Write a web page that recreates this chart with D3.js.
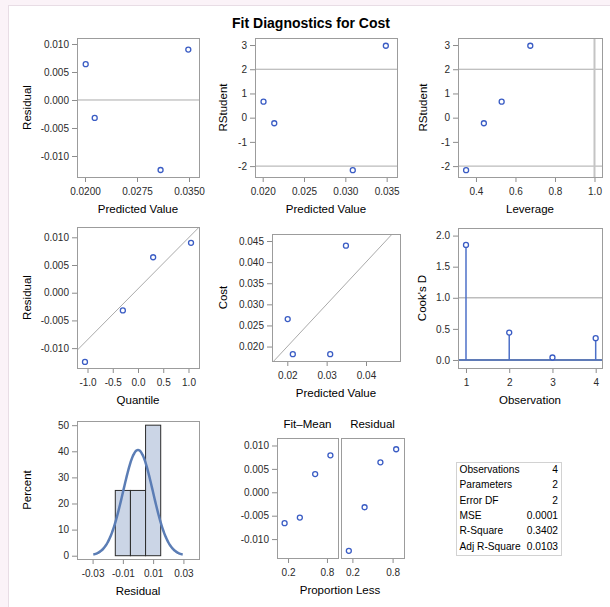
<!DOCTYPE html>
<html>
<head>
<meta charset="utf-8">
<script src="https://cdn.jsdelivr.net/npm/d3@7"></script>
<style>
body { margin: 0; background: #fff; }
svg text { font-family: "Liberation Sans", Arial, sans-serif; }
</style>
</head>
<body>
<div id="chart-area"></div>
<script>
// *********************
// Data
// *********************

// per observation
const observation = [1, 2, 3, 4];
const predicted = [0.0349, 0.0309, 0.0214, 0.0201];
const cost = [0.0439, 0.0182, 0.0182, 0.0265];
const residual = [0.0090, -0.0125, -0.0032, 0.0064];
const rstudent = [2.97, -2.17, -0.23, 0.66];
const leverage = [0.675, 0.35, 0.44, 0.53];
const cooksD = [1.85, 0.44, 0.04, 0.35];
const normalQuantile = [1.05, -1.05, -0.30, 0.30];

// histogram of residuals
const binStart = [-0.015, -0.005, 0.005];
const binPercent = [25, 25, 50];
const binWidth = 0.01;
const residMean = 0;
const residSD = 0.00985;

// residual-fit spread
const proportionLess = [0.147, 0.382, 0.618, 0.853];
const fitMinusMean = [-0.0066, -0.0054, 0.0039, 0.0079];
const residSorted = [-0.0125, -0.0032, 0.0064, 0.0092];

// reference lines
const rstudentRef = [-2, 2];
const leverageRef = 1.0;
const cooksRef = 1.0;
const qqLine = {intercept: 0.0007, slope: 0.0092};

// fit statistics
const statLabels = ["Observations", "Parameters", "Error DF", "MSE", "R-Square", "Adj R-Square"];
const statValues = ["4", "2", "2", "0.0001", "0.3402", "0.0103"];

// tick values
const residTicks = [-0.010, -0.005, 0.000, 0.005, 0.010];
const predTicks1 = [0.0200, 0.0275, 0.0350];
const predTicks2 = [0.020, 0.025, 0.030, 0.035];
const predTicks3 = [0.02, 0.03, 0.04];
const rstudTicks = [-2, -1, 0, 1, 2, 3];
const levTicks = [0.4, 0.6, 0.8, 1.0];
const quantTicks = [-1.0, -0.5, 0.0, 0.5, 1.0];
const costTicks = [0.020, 0.025, 0.030, 0.035, 0.040, 0.045];
const cookTicks = [0.0, 0.5, 1.0, 1.5, 2.0];
const obsTicks = [1, 2, 3, 4];
const pctTicks = [0, 10, 20, 30, 40, 50];
const histTicks = [-0.03, -0.01, 0.01, 0.03];
const propTicks = [0.2, 0.8];

// *********************
// Basic setup SVG
// *********************

const width = 610;
const height = 607;

const svg = d3.select("#chart-area")
	.append("svg")
	.attr("width", width)
	.attr("height", height);

// light page border at top and left
svg.append("rect").attr("width", width).attr("height", height).attr("fill", "#fbf3f8");
svg.append("rect").attr("x", 8).attr("y", 5).attr("width", width - 8).attr("height", height - 5).attr("fill", "#fff");
svg.append("line").attr("x1", 8).attr("x2", width).attr("y1", 5.5).attr("y2", 5.5).attr("stroke", "#e8dde5");
svg.append("line").attr("x1", 8.5).attr("x2", 8.5).attr("y1", 5).attr("y2", height).attr("stroke", "#e8dde5");

// Title
svg.append("text")
	.attr("x", 311)
	.attr("y", 28)
	.attr("text-anchor", "middle")
	.attr("font-size", "14px")
	.attr("font-weight", "bold")
	.text("Fit Diagnostics for Cost");

const minus = s => s.replace("\u2212", "-");
const fmt = f => (d => minus(d3.format(f)(d)));

const markColor = "#3a5cc4";
const refColor = "#aaaaaa";
const frameColor = "#9c9c9c";
let clipId = 0;

// *********************
// Panel helper
// *********************

function makePanel(o) {
	const x = d3.scaleLinear().domain(o.xDomain).range([o.x0, o.x1]);
	const y = d3.scaleLinear().domain(o.yDomain).range([o.y1, o.y0]);
	const g = svg.append("g");

	const id = "clip" + (clipId++);
	svg.append("clipPath").attr("id", id)
		.append("rect")
		.attr("x", o.x0).attr("y", o.y0)
		.attr("width", o.x1 - o.x0).attr("height", o.y1 - o.y0);

	// X axis
	g.append("g")
		.attr("transform", "translate(0," + o.y1 + ")")
		.call(d3.axisBottom(x).tickValues(o.xTicks).tickFormat(o.xFmt).tickSize(5).tickPadding(6));

	// Y axis
	if (!o.noYAxis) {
		g.append("g")
			.attr("transform", "translate(" + o.x0 + ",0)")
			.call(d3.axisLeft(y).tickValues(o.yTicks).tickFormat(o.yFmt).tickSize(5).tickPadding(3));
	}

	g.selectAll(".domain").remove();
	g.selectAll(".tick line").attr("stroke", "#8c8c8c");
	g.selectAll(".tick text").attr("fill", "#2a2a2a").attr("font-size", "10px")
		.style("font-family", "'Liberation Sans', Arial, sans-serif");

	// axis titles
	if (o.xTitle) {
		g.append("text")
			.attr("x", (o.x0 + o.x1) / 2)
			.attr("y", o.y1 + 36)
			.attr("text-anchor", "middle")
			.attr("font-size", "11.5px")
			.text(o.xTitle);
	}
	if (o.yTitle) {
		g.append("text")
			.attr("transform", "translate(" + o.yTitleX + "," + ((o.y0 + o.y1) / 2) + ") rotate(-90)")
			.attr("dy", "0.35em")
			.attr("text-anchor", "middle")
			.attr("font-size", "11.5px")
			.text(o.yTitle);
	}

	const plot = g.append("g").attr("clip-path", "url(#" + id + ")");
	return {x, y, g, plot, o};
}

function frame(p) {
	p.g.append("rect")
		.attr("x", p.o.x0 + 0.5).attr("y", p.o.y0 + 0.5)
		.attr("width", p.o.x1 - p.o.x0).attr("height", p.o.y1 - p.o.y0)
		.attr("fill", "none")
		.attr("stroke", frameColor);
}

function hRef(p, v, color, w) {
	p.plot.append("line")
		.attr("x1", p.o.x0).attr("x2", p.o.x1)
		.attr("y1", p.y(v)).attr("y2", p.y(v))
		.attr("stroke", color || refColor)
		.attr("stroke-width", w || 1);
}

function points(p, xs, ys) {
	p.g.append("g").selectAll("circle")
		.data(xs.map((d, i) => [d, ys[i]]))
		.enter().append("circle")
		.attr("cx", d => p.x(d[0]))
		.attr("cy", d => p.y(d[1]))
		.attr("r", 2.5)
		.attr("fill", "#fff")
		.attr("stroke", markColor)
		.attr("stroke-width", 1.3);
}

// *********************
// Row 1
// *********************

// Residual vs predicted
const p1 = makePanel({x0: 77, x1: 199, y0: 38, y1: 177,
	xDomain: [0.018846, 0.036442], yDomain: [-0.01375, 0.01107],
	xTicks: predTicks1, yTicks: residTicks, xFmt: fmt(".4f"), yFmt: fmt(".3f"),
	xTitle: "Predicted Value", yTitle: "Residual", yTitleX: 27});
hRef(p1, 0);
points(p1, predicted, residual);
frame(p1);

// RStudent vs predicted
const p2 = makePanel({x0: 255, x1: 397, y0: 38, y1: 177,
	xDomain: [0.01907, 0.03625], yDomain: [-2.45, 3.29],
	xTicks: predTicks2, yTicks: rstudTicks, xFmt: fmt(".3f"), yFmt: fmt("d"),
	xTitle: "Predicted Value", yTitle: "RStudent", yTitleX: 223});
rstudentRef.forEach(v => hRef(p2, v));
points(p2, predicted, rstudent);
frame(p2);

// RStudent vs leverage
const p3 = makePanel({x0: 458, x1: 602, y0: 38, y1: 177,
	xDomain: [0.309, 1.038], yDomain: [-2.45, 3.29],
	xTicks: levTicks, yTicks: rstudTicks, xFmt: fmt(".1f"), yFmt: fmt("d"),
	xTitle: "Leverage", yTitle: "RStudent", yTitleX: 423});
rstudentRef.forEach(v => hRef(p3, v));
p3.plot.append("line")
	.attr("x1", p3.x(leverageRef)).attr("x2", p3.x(leverageRef))
	.attr("y1", p3.o.y0).attr("y2", p3.o.y1)
	.attr("stroke", "#c4c4c4").attr("stroke-width", 2);
points(p3, leverage, rstudent);
frame(p3);

// *********************
// Row 2
// *********************

// Q-Q plot of residuals
const p4 = makePanel({x0: 77, x1: 199, y0: 227, y1: 368,
	xDomain: [-1.208, 1.208], yDomain: [-0.01359, 0.01186],
	xTicks: quantTicks, yTicks: residTicks, xFmt: fmt(".1f"), yFmt: fmt(".3f"),
	xTitle: "Quantile", yTitle: "Residual", yTitleX: 27});
p4.plot.append("line")
	.attr("x1", p4.x(-1.208)).attr("y1", p4.y(qqLine.intercept - 1.208 * qqLine.slope))
	.attr("x2", p4.x(1.208)).attr("y2", p4.y(qqLine.intercept + 1.208 * qqLine.slope))
	.attr("stroke", refColor);
points(p4, normalQuantile, residual);
frame(p4);

// Cost vs predicted
const p5 = makePanel({x0: 272, x1: 400, y0: 234, y1: 361,
	xDomain: [0.01611, 0.04864], yDomain: [0.01658, 0.04666],
	xTicks: predTicks3, yTicks: costTicks, xFmt: fmt(".2f"), yFmt: fmt(".3f"),
	xTitle: "Predicted Value", yTitle: "Cost", yTitleX: 223});
p5.plot.append("line")
	.attr("x1", p5.x(0.016)).attr("y1", p5.y(0.016))
	.attr("x2", p5.x(0.049)).attr("y2", p5.y(0.049))
	.attr("stroke", refColor);
points(p5, predicted, cost);
frame(p5);

// Cook's D
const p6 = makePanel({x0: 458, x1: 602, y0: 228, y1: 368,
	xDomain: [0.815, 4.146], yDomain: [-0.129, 2.122],
	xTicks: obsTicks, yTicks: cookTicks, xFmt: fmt("d"), yFmt: fmt(".1f"),
	xTitle: "Observation", yTitle: "Cook's D", yTitleX: 422});
hRef(p6, cooksRef, "#bdbdbd", 1.5);
p6.g.append("g").selectAll("line")
	.data(observation)
	.enter().append("line")
	.attr("x1", d => p6.x(d)).attr("x2", d => p6.x(d))
	.attr("y1", p6.y(0))
	.attr("y2", (d, i) => p6.y(cooksD[i]))
	.attr("stroke", "#4d70c8")
	.attr("stroke-width", 1.5);
hRef(p6, 0, "#2a4f9f", 1.5);
points(p6, observation, cooksD);
frame(p6);

// *********************
// Row 3
// *********************

// Histogram of residuals with normal curve
const p7 = makePanel({x0: 77, x1: 199, y0: 421, y1: 559,
	xDomain: [-0.0403, 0.0403], yDomain: [-1.26, 51.6],
	xTicks: histTicks, yTicks: pctTicks, xFmt: fmt(".2f"), yFmt: fmt("d"),
	xTitle: "Residual", yTitle: "Percent", yTitleX: 27});
p7.plot.selectAll("rect.bar")
	.data(binStart)
	.enter().append("rect")
	.attr("class", "bar")
	.attr("x", d => p7.x(d))
	.attr("width", d => p7.x(d + binWidth) - p7.x(d))
	.attr("y", (d, i) => p7.y(binPercent[i]))
	.attr("height", (d, i) => p7.y(0) - p7.y(binPercent[i]))
	.attr("fill", "#cbd5e6")
	.attr("stroke", "#2b2b2b")
	.attr("stroke-width", 1);
const normalX = d3.range(residMean - 3 * residSD, residMean + 3 * residSD + 1e-9, residSD / 20);
const normalPct = x => 100 * binWidth * Math.exp(-0.5 * ((x - residMean) / residSD) ** 2) / (residSD * Math.sqrt(2 * Math.PI));
p7.plot.append("path")
	.datum(normalX)
	.attr("fill", "none")
	.attr("stroke", "#5b7db5")
	.attr("stroke-width", 2.5)
	.attr("d", d3.line().x(d => p7.x(d)).y(d => p7.y(normalPct(d))).curve(d3.curveBasis));
frame(p7);

// Residual-fit spread plot
const p8a = makePanel({x0: 277, x1: 338, y0: 438, y1: 558,
	xDomain: [0.03, 0.97], yDomain: [-0.01404, 0.0116],
	xTicks: propTicks, yTicks: residTicks, xFmt: fmt(".1f"), yFmt: fmt(".3f")});
points(p8a, proportionLess, fitMinusMean);
frame(p8a);

const p8b = makePanel({x0: 341, x1: 404, y0: 438, y1: 558,
	xDomain: [0.03, 0.97], yDomain: [-0.01404, 0.0116],
	xTicks: propTicks, yTicks: residTicks, xFmt: fmt(".1f"), yFmt: fmt(".3f"), noYAxis: true});
points(p8b, proportionLess, residSorted);
frame(p8b);

svg.append("text").attr("x", 307.5).attr("y", 428).attr("text-anchor", "middle")
	.attr("font-size", "11.5px").text("Fit\u2013Mean");
svg.append("text").attr("x", 372.5).attr("y", 428).attr("text-anchor", "middle")
	.attr("font-size", "11.5px").text("Residual");
svg.append("text").attr("x", 340).attr("y", 594).attr("text-anchor", "middle")
	.attr("font-size", "11.5px").text("Proportion Less");

// *********************
// Fit statistics table
// *********************

const table = svg.append("g");
table.append("rect")
	.attr("x", 456.5).attr("y", 462.5)
	.attr("width", 105).attr("height", 93)
	.attr("fill", "#fff")
	.attr("stroke", "#d2d2d2");

statLabels.forEach((label, i) => {
	table.append("text")
		.attr("x", 459.5)
		.attr("y", 473 + i * 15.3)
		.attr("font-size", "10.2px")
		.text(label);
	table.append("text")
		.attr("x", 558)
		.attr("y", 473 + i * 15.3)
		.attr("text-anchor", "end")
		.attr("font-size", "10.2px")
		.text(statValues[i]);
});
</script>
</body>
</html>
